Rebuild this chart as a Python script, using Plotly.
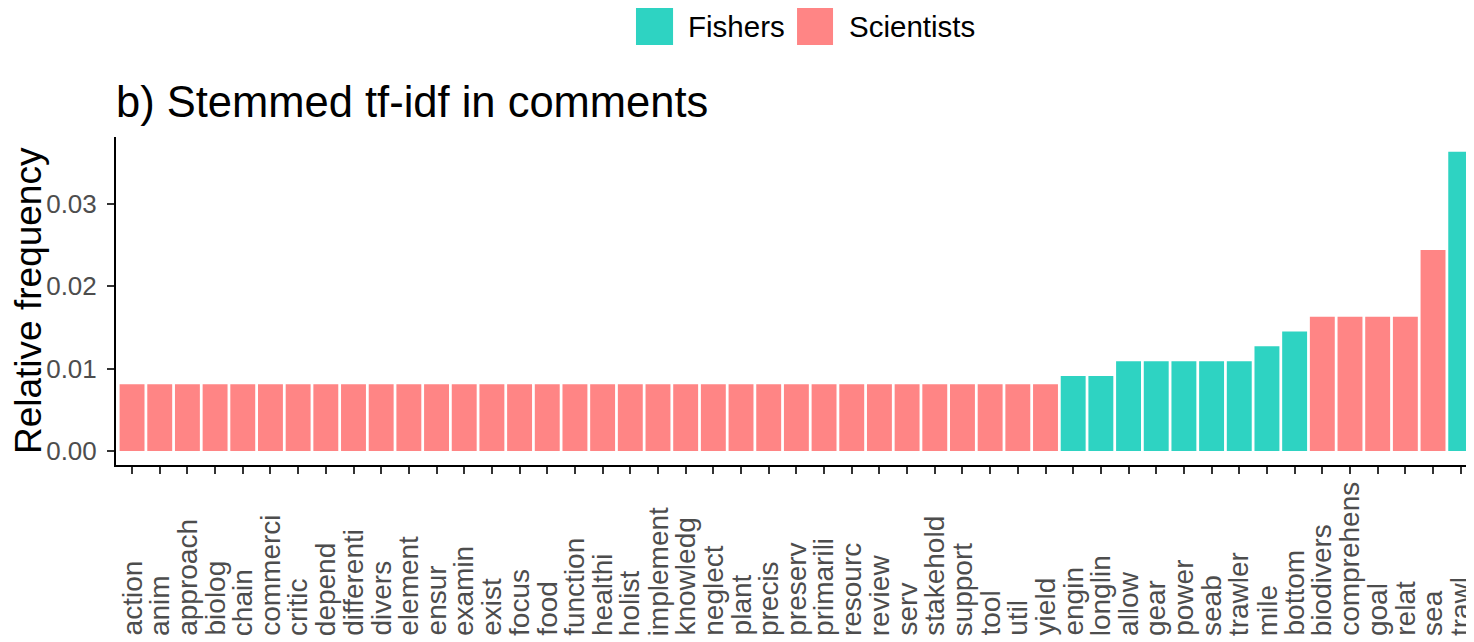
import plotly.graph_objects as go

# ---- data ----
words = ["action", "anim", "approach", "biolog", "chain", "commerci", "critic", "depend",
         "differenti", "divers", "element", "ensur", "examin", "exist", "focus", "food",
         "function", "healthi", "holist", "implement", "knowledg", "neglect", "plant",
         "precis", "preserv", "primarili", "resourc", "review", "serv", "stakehold",
         "support", "tool", "util", "yield",
         "engin", "longlin", "allow", "gear", "power", "seab", "trawler", "mile", "bottom",
         "biodivers", "comprehens", "goal", "relat", "sea", "trawl"]
values = [0.0081] * 34 + [0.0091, 0.0091, 0.0109, 0.0109, 0.0109, 0.0109, 0.0109,
                          0.0127, 0.0145, 0.0163, 0.0163, 0.0163, 0.0163, 0.0244, 0.0363]
groups = ["Scientists"] * 34 + ["Fishers"] * 9 + ["Scientists"] * 5 + ["Fishers"]
y_ticks = [0.00, 0.01, 0.02, 0.03]
y_tick_labels = ["0.00", "0.01", "0.02", "0.03"]

colors = {"Fishers": "#2ED3C2", "Scientists": "#FF8585"}
FONT = "Liberation Sans, Arial, sans-serif"

# page body has an 8px margin; figure is sized to fit the window
W, H = 1466, 634

fig = go.Figure()
for g in ["Fishers", "Scientists"]:
    xs = [w for w, gg in zip(words, groups) if gg == g]
    ys = [v for v, gg in zip(values, groups) if gg == g]
    fig.add_trace(go.Bar(x=xs, y=ys, name=g, marker_color=colors[g],
                         marker_line_width=0, width=0.9, showlegend=False))

annotations = []
for w in words:
    annotations.append(dict(x=w, xref="x", y=-0.524, yref="paper", text=w,
                            textangle=-90, showarrow=False, xanchor="center",
                            yanchor="bottom", borderpad=0,
                            font=dict(family=FONT, size=28, color="#4D4D4D")))

# y-axis title (centred on the panel)
annotations.append(dict(x=-0.0648, xref="paper", y=0.5, yref="paper",
                        text="Relative frequency", textangle=-90, showarrow=False,
                        xanchor="center", yanchor="middle",
                        font=dict(family=FONT, size=37, color="#000000")))

# custom legend
shapes = []
leg = [("Fishers", 0.3829, 0.4102, 0.4197), ("Scientists", 0.5015, 0.5280, 0.5383)]
for name, x0, x1, xt in leg:
    shapes.append(dict(type="rect", xref="paper", yref="paper", x0=x0, x1=x1,
                       y0=1.2805, y1=1.3933, fillcolor=colors[name], line_width=0))
    annotations.append(dict(x=xt, xref="paper", y=1.337, yref="paper", text=name,
                            showarrow=False, xanchor="left", yanchor="middle",
                            font=dict(family=FONT, size=29.5, color="#000000")))

fig.update_layout(
    width=W, height=H,
    margin=dict(l=108, r=0, t=129, b=177, autoexpand=False),
    paper_bgcolor="white", plot_bgcolor="white",
    barmode="overlay",
    title=dict(text="b) Stemmed tf-idf in comments", x=108 / W, xref="container",
               xanchor="left", y=1 - 94 / H, yref="container", yanchor="middle",
               font=dict(family=FONT, size=43.5, color="#000000")),
    font=dict(family=FONT),
    annotations=annotations,
    shapes=shapes,
)
fig.update_xaxes(type="category", categoryorder="array", categoryarray=words,
                 range=[-0.58, 48.48], showticklabels=False, automargin=False,
                 ticks="outside", ticklen=7, tickwidth=1.5, tickcolor="#333333",
                 showline=True, linecolor="#000000", linewidth=2, showgrid=False,
                 zeroline=False)
fig.update_yaxes(range=[-0.0017, 0.0381], tickvals=y_ticks, ticktext=y_tick_labels,
                 automargin=False,
                 ticks="outside", ticklen=7, tickwidth=1.5, tickcolor="#333333",
                 ticklabelstandoff=5,
                 tickfont=dict(family=FONT, size=26, color="#4D4D4D"),
                 showline=True, linecolor="#000000", linewidth=2, showgrid=False,
                 zeroline=False)

fig.write_html("out.html")
